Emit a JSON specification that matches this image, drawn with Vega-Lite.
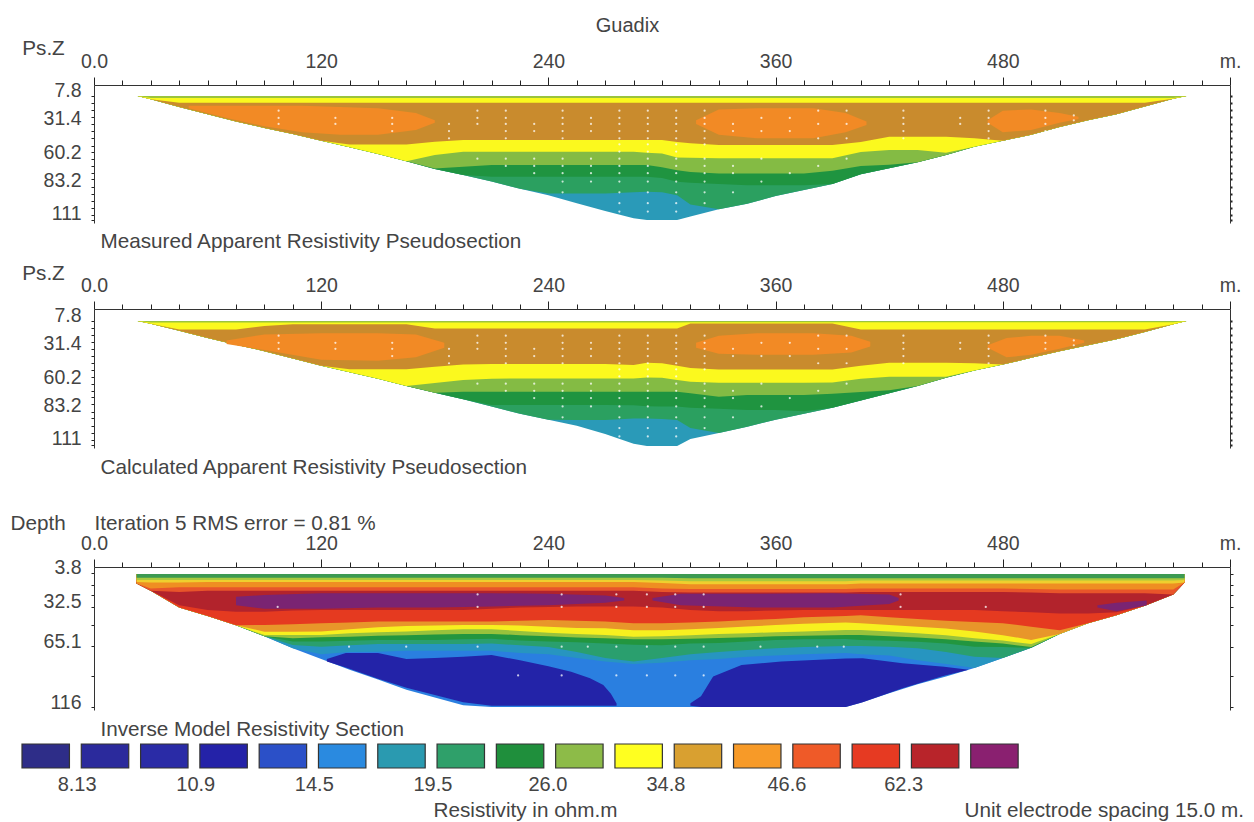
{
"$schema":"https://vega.github.io/schema/vega-lite/v6.json",
"width":1254,"height":822,"padding":0,"autosize":"none","background":"white",
"config":{"view":{"stroke":null},"font":"Liberation Sans","axis":{"grid":false,"labelFont":"Liberation Sans","titleFont":"Liberation Sans","labelFontSize":19.5,"titleFontSize":20.7,"labelColor":"#444","titleColor":"#444","titleFontWeight":"normal","domainColor":"#333","tickColor":"#222","labelOverlap":false,"labelBound":false,"labelFlush":false}},
"datasets":{
"p1":[
{"x":23,"topgreen":7.8,"yellow1":7.8,"brown":7.8,"yellow2":7.8,"lgreen":7.8,"dgreen":7.8,"green":7.8,"teal":7.8},
{"x":30,"topgreen":9.5,"yellow1":10.5,"brown":10.5,"yellow2":10.5,"lgreen":10.5,"dgreen":10.5,"green":10.5,"teal":10.5},
{"x":45,"topgreen":9.5,"yellow1":13.4,"brown":17,"yellow2":17,"lgreen":17,"dgreen":17,"green":17,"teal":17},
{"x":60,"topgreen":9.5,"yellow1":13.4,"brown":23,"yellow2":23,"lgreen":23,"dgreen":23,"green":23,"teal":23},
{"x":75,"topgreen":9.5,"yellow1":13.4,"brown":29,"yellow2":29,"lgreen":29,"dgreen":29,"green":29,"teal":29},
{"x":90,"topgreen":9.5,"yellow1":13.4,"brown":34.4,"yellow2":34.4,"lgreen":34.4,"dgreen":34.4,"green":34.4,"teal":34.4},
{"x":105,"topgreen":9.5,"yellow1":13.4,"brown":39.5,"yellow2":39.5,"lgreen":39.5,"dgreen":39.5,"green":39.5,"teal":39.5},
{"x":120,"topgreen":9.5,"yellow1":13.4,"brown":45,"yellow2":45,"lgreen":45,"dgreen":45,"green":45,"teal":45},
{"x":135,"topgreen":9.5,"yellow1":13.4,"brown":48.1,"yellow2":50.5,"lgreen":50.5,"dgreen":50.5,"green":50.5,"teal":50.5},
{"x":150,"topgreen":9.5,"yellow1":13.4,"brown":48.1,"yellow2":56,"lgreen":56,"dgreen":56,"green":56,"teal":56},
{"x":165,"topgreen":9.5,"yellow1":13.4,"brown":48.1,"yellow2":62,"lgreen":62,"dgreen":62,"green":62,"teal":62},
{"x":180,"topgreen":9.5,"yellow1":13.4,"brown":45.9,"yellow2":57,"lgreen":68.1,"dgreen":68.5,"green":68.5,"teal":68.5},
{"x":195,"topgreen":9.5,"yellow1":13.4,"brown":44.5,"yellow2":54.2,"lgreen":66.7,"dgreen":73.5,"green":73.5,"teal":73.5},
{"x":210,"topgreen":9.5,"yellow1":13.4,"brown":44.5,"yellow2":54.2,"lgreen":65.3,"dgreen":75,"green":79,"teal":79},
{"x":225,"topgreen":9.5,"yellow1":13.4,"brown":44.5,"yellow2":54.2,"lgreen":65.3,"dgreen":75,"green":85,"teal":85},
{"x":240,"topgreen":9.5,"yellow1":13.4,"brown":44.5,"yellow2":54.2,"lgreen":65.3,"dgreen":75,"green":89,"teal":90.5},
{"x":255,"topgreen":9.5,"yellow1":13.4,"brown":44.5,"yellow2":54.2,"lgreen":65.3,"dgreen":75,"green":89,"teal":97},
{"x":270,"topgreen":9.5,"yellow1":13.4,"brown":44.5,"yellow2":54.2,"lgreen":65.3,"dgreen":75,"green":89,"teal":103.5},
{"x":285,"topgreen":9.5,"yellow1":13.4,"brown":44.5,"yellow2":54.2,"lgreen":65.3,"dgreen":75,"green":88,"teal":109.5},
{"x":292,"topgreen":9.5,"yellow1":13.4,"brown":44.5,"yellow2":55,"lgreen":65.3,"dgreen":75,"green":87.5,"teal":111},
{"x":300,"topgreen":9.5,"yellow1":13.4,"brown":44.5,"yellow2":55.6,"lgreen":67,"dgreen":76,"green":88,"teal":111},
{"x":308,"topgreen":9.5,"yellow1":13.4,"brown":46,"yellow2":59,"lgreen":69.5,"dgreen":79.2,"green":90.3,"teal":111},
{"x":315,"topgreen":9.5,"yellow1":13.4,"brown":47.2,"yellow2":59.2,"lgreen":71,"dgreen":80,"green":98,"teal":108},
{"x":330,"topgreen":9.5,"yellow1":13.4,"brown":48.6,"yellow2":59.7,"lgreen":72.2,"dgreen":81,"green":102,"teal":102},
{"x":345,"topgreen":9.5,"yellow1":13.4,"brown":48.6,"yellow2":59.7,"lgreen":72.2,"dgreen":82,"green":97.5,"teal":97.5},
{"x":360,"topgreen":9.5,"yellow1":13.4,"brown":48.6,"yellow2":59.7,"lgreen":72.2,"dgreen":82,"green":91,"teal":91},
{"x":375,"topgreen":9.5,"yellow1":13.4,"brown":48.6,"yellow2":59.7,"lgreen":72.2,"dgreen":82,"green":86,"teal":86},
{"x":390,"topgreen":9.5,"yellow1":13.4,"brown":48.6,"yellow2":59.7,"lgreen":70,"dgreen":81,"green":81,"teal":81},
{"x":405,"topgreen":9.5,"yellow1":13.4,"brown":46,"yellow2":54.5,"lgreen":66,"dgreen":73,"green":73,"teal":73},
{"x":420,"topgreen":9.5,"yellow1":13.4,"brown":41.7,"yellow2":52.8,"lgreen":65,"dgreen":68,"green":68,"teal":68},
{"x":435,"topgreen":9.5,"yellow1":13.4,"brown":41.7,"yellow2":52.8,"lgreen":63,"dgreen":63,"green":63,"teal":63},
{"x":450,"topgreen":9.5,"yellow1":13.4,"brown":41.7,"yellow2":55,"lgreen":57,"dgreen":57,"green":57,"teal":57},
{"x":465,"topgreen":9.5,"yellow1":13.4,"brown":43,"yellow2":50,"lgreen":50,"dgreen":50,"green":50,"teal":50},
{"x":480,"topgreen":9.5,"yellow1":13.4,"brown":45,"yellow2":45,"lgreen":45,"dgreen":45,"green":45,"teal":45},
{"x":495,"topgreen":9.5,"yellow1":13.4,"brown":40,"yellow2":40,"lgreen":40,"dgreen":40,"green":40,"teal":40},
{"x":510,"topgreen":9.5,"yellow1":13.4,"brown":33.5,"yellow2":33.5,"lgreen":33.5,"dgreen":33.5,"green":33.5,"teal":33.5},
{"x":525,"topgreen":9.5,"yellow1":13.4,"brown":28,"yellow2":28,"lgreen":28,"dgreen":28,"green":28,"teal":28},
{"x":540,"topgreen":9.5,"yellow1":13.4,"brown":23,"yellow2":23,"lgreen":23,"dgreen":23,"green":23,"teal":23},
{"x":555,"topgreen":9.5,"yellow1":13.4,"brown":16.5,"yellow2":16.5,"lgreen":16.5,"dgreen":16.5,"green":16.5,"teal":16.5},
{"x":570,"topgreen":9.5,"yellow1":10,"brown":10,"yellow2":10,"lgreen":10,"dgreen":10,"green":10,"teal":10},
{"x":577,"topgreen":7.8,"yellow1":7.8,"brown":7.8,"yellow2":7.8,"lgreen":7.8,"dgreen":7.8,"green":7.8,"teal":7.8}
],
"p2":[
{"x":23,"topgreen":7.8,"yellow1":7.8,"brown":7.8,"yellow2":7.8,"lgreen":7.8,"dgreen":7.8,"green":7.8,"teal":7.8},
{"x":30,"topgreen":9,"yellow1":10,"brown":10,"yellow2":10,"lgreen":10,"dgreen":10,"green":10,"teal":10},
{"x":45,"topgreen":9,"yellow1":14.8,"brown":16,"yellow2":16,"lgreen":16,"dgreen":16,"green":16,"teal":16},
{"x":60,"topgreen":9,"yellow1":14.8,"brown":22,"yellow2":22,"lgreen":22,"dgreen":22,"green":22,"teal":22},
{"x":75,"topgreen":9,"yellow1":14.8,"brown":27.5,"yellow2":27.5,"lgreen":27.5,"dgreen":27.5,"green":27.5,"teal":27.5},
{"x":90,"topgreen":9,"yellow1":12,"brown":33,"yellow2":33,"lgreen":33,"dgreen":33,"green":33,"teal":33},
{"x":105,"topgreen":9,"yellow1":10.6,"brown":39,"yellow2":39,"lgreen":39,"dgreen":39,"green":39,"teal":39},
{"x":120,"topgreen":9,"yellow1":10.6,"brown":45,"yellow2":45,"lgreen":45,"dgreen":45,"green":45,"teal":45},
{"x":135,"topgreen":9,"yellow1":10.6,"brown":48,"yellow2":50.5,"lgreen":50.5,"dgreen":50.5,"green":50.5,"teal":50.5},
{"x":150,"topgreen":9,"yellow1":10.6,"brown":48,"yellow2":56,"lgreen":56,"dgreen":56,"green":56,"teal":56},
{"x":165,"topgreen":9,"yellow1":10.6,"brown":48,"yellow2":62,"lgreen":62,"dgreen":62,"green":62,"teal":62},
{"x":180,"topgreen":9,"yellow1":14,"brown":46,"yellow2":59.5,"lgreen":67.5,"dgreen":67.5,"green":67.5,"teal":67.5},
{"x":195,"topgreen":9,"yellow1":14,"brown":44,"yellow2":57,"lgreen":66.7,"dgreen":73,"green":73,"teal":73},
{"x":210,"topgreen":9,"yellow1":14,"brown":43.6,"yellow2":56,"lgreen":66.7,"dgreen":77.8,"green":79,"teal":79},
{"x":225,"topgreen":9,"yellow1":14,"brown":43.6,"yellow2":55.6,"lgreen":66.7,"dgreen":77.8,"green":85,"teal":85},
{"x":240,"topgreen":9,"yellow1":14,"brown":43.6,"yellow2":55.6,"lgreen":66.7,"dgreen":77.8,"green":90,"teal":90},
{"x":255,"topgreen":9,"yellow1":14,"brown":43.6,"yellow2":55.6,"lgreen":66.7,"dgreen":77.8,"green":90.3,"teal":95},
{"x":270,"topgreen":9,"yellow1":14,"brown":43.6,"yellow2":55.6,"lgreen":66.7,"dgreen":77.8,"green":90.3,"teal":102},
{"x":285,"topgreen":9,"yellow1":14,"brown":44.5,"yellow2":55.6,"lgreen":66.7,"dgreen":78,"green":89,"teal":110},
{"x":292,"topgreen":9,"yellow1":14,"brown":42.5,"yellow2":54.8,"lgreen":66.7,"dgreen":78.9,"green":89,"teal":112},
{"x":300,"topgreen":9,"yellow1":14,"brown":43,"yellow2":55,"lgreen":66.7,"dgreen":79,"green":89.5,"teal":112},
{"x":308,"topgreen":9,"yellow1":14,"brown":45,"yellow2":57,"lgreen":66.7,"dgreen":79,"green":90.3,"teal":112},
{"x":315,"topgreen":8.8,"yellow1":9.8,"brown":47,"yellow2":58.4,"lgreen":68,"dgreen":80,"green":97,"teal":106},
{"x":330,"topgreen":8.8,"yellow1":9.8,"brown":48.1,"yellow2":59.2,"lgreen":70.9,"dgreen":81,"green":101,"teal":101},
{"x":345,"topgreen":8.8,"yellow1":9.8,"brown":48.1,"yellow2":59.2,"lgreen":69.5,"dgreen":82,"green":96,"teal":96},
{"x":360,"topgreen":8.8,"yellow1":9.8,"brown":48.1,"yellow2":59.2,"lgreen":69.5,"dgreen":82,"green":90,"teal":90},
{"x":375,"topgreen":8.8,"yellow1":9.8,"brown":48.1,"yellow2":59.2,"lgreen":69.5,"dgreen":83,"green":85,"teal":85},
{"x":390,"topgreen":8.8,"yellow1":9.8,"brown":48.1,"yellow2":59,"lgreen":68.5,"dgreen":80,"green":80,"teal":80},
{"x":405,"topgreen":8.8,"yellow1":14.8,"brown":45,"yellow2":56,"lgreen":67,"dgreen":74,"green":74,"teal":74},
{"x":420,"topgreen":8.8,"yellow1":14.8,"brown":42.5,"yellow2":54.2,"lgreen":65.5,"dgreen":68,"green":68,"teal":68},
{"x":435,"topgreen":8.8,"yellow1":14.8,"brown":42.5,"yellow2":54.2,"lgreen":62,"dgreen":62,"green":62,"teal":62},
{"x":450,"topgreen":8.8,"yellow1":14.8,"brown":42.5,"yellow2":54.2,"lgreen":55,"dgreen":55,"green":55,"teal":55},
{"x":465,"topgreen":8.8,"yellow1":14.8,"brown":43,"yellow2":49,"lgreen":49,"dgreen":49,"green":49,"teal":49},
{"x":480,"topgreen":8.8,"yellow1":14.8,"brown":44,"yellow2":44,"lgreen":44,"dgreen":44,"green":44,"teal":44},
{"x":495,"topgreen":8.8,"yellow1":14.8,"brown":38.5,"yellow2":38.5,"lgreen":38.5,"dgreen":38.5,"green":38.5,"teal":38.5},
{"x":510,"topgreen":8.8,"yellow1":14.8,"brown":33,"yellow2":33,"lgreen":33,"dgreen":33,"green":33,"teal":33},
{"x":525,"topgreen":8.8,"yellow1":14.8,"brown":28,"yellow2":28,"lgreen":28,"dgreen":28,"green":28,"teal":28},
{"x":540,"topgreen":8.8,"yellow1":14.8,"brown":23,"yellow2":23,"lgreen":23,"dgreen":23,"green":23,"teal":23},
{"x":555,"topgreen":8.8,"yellow1":14.8,"brown":17,"yellow2":17,"lgreen":17,"dgreen":17,"green":17,"teal":17},
{"x":570,"topgreen":8.8,"yellow1":10.5,"brown":10.5,"yellow2":10.5,"lgreen":10.5,"dgreen":10.5,"green":10.5,"teal":10.5},
{"x":577,"topgreen":7.8,"yellow1":7.8,"brown":7.8,"yellow2":7.8,"lgreen":7.8,"dgreen":7.8,"green":7.8,"teal":7.8}
],
"p3":[
{"x":22.5,"a":8,"b":10,"c":11.6,"d":12.8,"e":12.8,"f":12.8,"g":12.8,"h":12.8,"i":12.8,"j":12.8,"k":12.8,"l":12.8,"m":12.8,"n":12.8},
{"x":30,"a":8,"b":10,"c":12,"d":17,"e":19,"f":19,"g":19,"h":19,"i":19,"j":19,"k":19,"l":19,"m":19,"n":19},
{"x":45,"a":8,"b":10,"c":12,"d":16,"e":20,"f":31,"g":33,"h":33,"i":33,"j":33,"k":33,"l":33,"m":33,"n":33},
{"x":60,"a":8,"b":10,"c":11.6,"d":16,"e":19,"f":35,"g":40,"h":40,"i":40,"j":40,"k":40,"l":40,"m":40,"n":40},
{"x":75,"a":8,"b":10,"c":11.6,"d":16,"e":19,"f":36.4,"g":47.8,"h":47.8,"i":47.8,"j":47.8,"k":47.8,"l":47.8,"m":47.8,"n":47.8},
{"x":90,"a":8,"b":10,"c":11.6,"d":16,"e":19,"f":36.4,"g":47.5,"h":53.1,"i":55.9,"j":57,"k":57,"l":57,"m":57,"n":57},
{"x":105,"a":8,"b":10,"c":11.6,"d":16,"e":19,"f":35.5,"g":47,"h":53.1,"i":55.9,"j":58.7,"k":61.4,"l":64.2,"m":67,"n":67},
{"x":120,"a":8,"b":10,"c":11.6,"d":16,"e":19,"f":35,"g":46.1,"h":53,"i":55.9,"j":57.8,"k":61.4,"l":65.6,"m":72,"n":76},
{"x":135,"a":8,"b":10,"c":11.6,"d":16,"e":19,"f":35,"g":45.5,"h":51,"i":54.5,"j":57.3,"k":60.7,"l":64.5,"m":70,"n":85},
{"x":150,"a":8,"b":10,"c":11.6,"d":16,"e":19,"f":35,"g":44.7,"h":49.5,"i":53.5,"j":56.5,"k":60,"l":63.5,"m":69.8,"n":93},
{"x":165,"a":8,"b":10,"c":11.6,"d":16,"e":19,"f":35,"g":44.7,"h":48.4,"i":53,"j":56,"k":60,"l":63.4,"m":69,"n":101.5},
{"x":180,"a":8,"b":10,"c":11.6,"d":16,"e":19,"f":35,"g":44.7,"h":48,"i":52,"j":55.5,"k":60,"l":63.4,"m":69,"n":108},
{"x":195,"a":8,"b":10,"c":11.6,"d":16,"e":19,"f":35,"g":44.7,"h":47.5,"i":51,"j":55,"k":59.5,"l":63.4,"m":69,"n":114.5},
{"x":210,"a":8,"b":10,"c":11.6,"d":16,"e":19,"f":34,"g":44.7,"h":47.5,"i":51,"j":55,"k":59,"l":63,"m":69,"n":116},
{"x":225,"a":8,"b":10,"c":11.6,"d":16,"e":19,"f":33,"g":44,"h":48,"i":52.5,"j":56,"k":60.5,"l":64.5,"m":71,"n":116},
{"x":240,"a":8,"b":10,"c":11.6,"d":16,"e":19,"f":32.5,"g":43.4,"h":49,"i":54,"j":57,"k":61.4,"l":66,"m":72,"n":116},
{"x":255,"a":8,"b":10,"c":11.6,"d":16,"e":19,"f":32.2,"g":44,"h":50,"i":55,"j":58,"k":62,"l":70,"m":75,"n":116},
{"x":270,"a":8,"b":10,"c":11.6,"d":16,"e":19,"f":32.2,"g":44.7,"h":50.3,"i":55.9,"j":58.7,"k":63,"l":75,"m":78,"n":116},
{"x":285,"a":8,"b":10,"c":11.6,"d":16,"e":19,"f":32,"g":46,"h":52,"i":57.3,"j":59.5,"k":64,"l":78,"m":80,"n":116},
{"x":300,"a":8.2,"b":10.5,"c":12.5,"d":17,"e":20,"f":33,"g":46,"h":52,"i":57,"j":59.5,"k":64.5,"l":75,"m":79,"n":116},
{"x":315,"a":8.5,"b":11,"c":13.5,"d":17.5,"e":20.5,"f":35,"g":45.5,"h":51,"i":56,"j":59,"k":63,"l":72,"m":77,"n":116},
{"x":330,"a":8.5,"b":11,"c":13.5,"d":17.5,"e":20.5,"f":36,"g":44.7,"h":50,"i":55,"j":58.5,"k":62.5,"l":70,"m":76,"n":116},
{"x":345,"a":8.5,"b":11,"c":13.5,"d":17.5,"e":20.5,"f":36,"g":43.4,"h":48.9,"i":54.5,"j":57.8,"k":61.4,"l":68.4,"m":74,"n":116},
{"x":360,"a":8.5,"b":11,"c":13.5,"d":17.5,"e":20.5,"f":35.5,"g":42.5,"h":47.5,"i":53.5,"j":57,"k":60,"l":67,"m":73,"n":116},
{"x":375,"a":8.5,"b":11,"c":13.5,"d":17.5,"e":20.5,"f":35,"g":41,"h":46.5,"i":53,"j":56.5,"k":59.5,"l":66,"m":72,"n":116},
{"x":397,"a":8.5,"b":11,"c":13.5,"d":17.5,"e":20.5,"f":35,"g":40,"h":45.5,"i":51.7,"j":55.9,"k":59.3,"l":65,"m":71,"n":116},
{"x":405,"a":8.5,"b":10.5,"c":13,"d":17,"e":20,"f":35,"g":39.5,"h":46,"i":51.7,"j":55.9,"k":60,"l":65,"m":72,"n":112.5},
{"x":420,"a":8.5,"b":10.5,"c":13,"d":17,"e":20,"f":35,"g":41,"h":47.5,"i":53,"j":57,"k":60.7,"l":65.6,"m":73,"n":104.5},
{"x":435,"a":8.5,"b":10.5,"c":13,"d":17,"e":20,"f":35,"g":42.5,"h":49,"i":54.5,"j":58,"k":61.5,"l":67,"m":77,"n":97},
{"x":450,"a":8.5,"b":10.5,"c":13,"d":17,"e":20,"f":35,"g":44,"h":50.5,"i":56,"j":59.5,"k":63,"l":70,"m":80,"n":90.5},
{"x":465,"a":8.5,"b":10.5,"c":13,"d":17,"e":20,"f":35,"g":45,"h":53,"i":58.7,"j":61.4,"k":65.6,"l":74,"m":83.5,"n":83.5},
{"x":480,"a":8.5,"b":10.5,"c":13,"d":17,"e":20,"f":36,"g":46,"h":56,"i":60.5,"j":63,"k":66,"l":75,"m":75,"n":75},
{"x":495,"a":8.5,"b":10.5,"c":13,"d":17.5,"e":20.5,"f":37,"g":49,"h":60,"i":63.5,"j":66,"k":66.5,"l":66.5,"m":66.5,"n":66.5},
{"x":510,"a":8.5,"b":10.5,"c":13,"d":18,"e":21,"f":38,"g":52,"h":55,"i":55,"j":55,"k":55,"l":55,"m":55,"n":55},
{"x":525,"a":8.5,"b":10.5,"c":13,"d":18,"e":21,"f":38,"g":46,"h":46,"i":46,"j":46,"k":46,"l":46,"m":46,"n":46},
{"x":540,"a":8.5,"b":10.5,"c":13,"d":18,"e":21,"f":37,"g":39.5,"h":39.5,"i":39.5,"j":39.5,"k":39.5,"l":39.5,"m":39.5,"n":39.5},
{"x":555,"a":8.5,"b":10.5,"c":13,"d":18,"e":21,"f":31.5,"g":31.5,"h":31.5,"i":31.5,"j":31.5,"k":31.5,"l":31.5,"m":31.5,"n":31.5},
{"x":570,"a":8.5,"b":10.5,"c":13,"d":18,"e":22,"f":22,"g":22,"h":22,"i":22,"j":22,"k":22,"l":22,"m":22,"n":22},
{"x":576,"a":8.5,"b":10,"c":12,"d":12,"e":12,"f":12,"g":12,"h":12,"i":12,"j":12,"k":12,"l":12,"m":12,"n":12}
],
"p1lens":[
{"lens":"L","band":"orange","x":50,"z0":16,"z1":18},{"lens":"L","band":"orange","x":70,"z0":16,"z1":26},{"lens":"L","band":"orange","x":90,"z0":16,"z1":33},{"lens":"L","band":"orange","x":110,"z0":16,"z1":38},{"lens":"L","band":"orange","x":130,"z0":17,"z1":40},{"lens":"L","band":"orange","x":150,"z0":18,"z1":40},{"lens":"L","band":"orange","x":170,"z0":22,"z1":36},{"lens":"L","band":"orange","x":180,"z0":28,"z1":30},
{"lens":"R1","band":"orange","x":318,"z0":28,"z1":31},{"lens":"R1","band":"orange","x":330,"z0":19,"z1":40},{"lens":"R1","band":"orange","x":350,"z0":18,"z1":43},{"lens":"R1","band":"orange","x":380,"z0":18,"z1":43},{"lens":"R1","band":"orange","x":397,"z0":22,"z1":38},{"lens":"R1","band":"orange","x":408,"z0":29,"z1":32},
{"lens":"R2","band":"orange","x":472,"z0":28,"z1":30},{"lens":"R2","band":"orange","x":480,"z0":20,"z1":38},{"lens":"R2","band":"orange","x":495,"z0":19,"z1":36},{"lens":"R2","band":"orange","x":510,"z0":22,"z1":30},{"lens":"R2","band":"orange","x":520,"z0":25,"z1":27}
],
"p2lens":[
{"lens":"L","band":"orange","x":70,"z0":24,"z1":27},{"lens":"L","band":"orange","x":90,"z0":19,"z1":32},{"lens":"L","band":"orange","x":120,"z0":18,"z1":40},{"lens":"L","band":"orange","x":150,"z0":18,"z1":41},{"lens":"L","band":"orange","x":170,"z0":19,"z1":38},{"lens":"L","band":"orange","x":185,"z0":26,"z1":30},
{"lens":"R1","band":"orange","x":318,"z0":26,"z1":30},{"lens":"R1","band":"orange","x":330,"z0":20,"z1":35},{"lens":"R1","band":"orange","x":350,"z0":18,"z1":36},{"lens":"R1","band":"orange","x":380,"z0":18,"z1":36},{"lens":"R1","band":"orange","x":400,"z0":20,"z1":34},{"lens":"R1","band":"orange","x":410,"z0":25,"z1":29},
{"lens":"R2","band":"orange","x":472,"z0":28,"z1":30},{"lens":"R2","band":"orange","x":482,"z0":22,"z1":38},{"lens":"R2","band":"orange","x":495,"z0":20,"z1":36},{"lens":"R2","band":"orange","x":510,"z0":20,"z1":31},{"lens":"R2","band":"orange","x":523,"z0":24,"z1":26}
],
"p3lens":[
{"lens":"P1","band":"purple","x":75,"z0":24,"z1":31},{"lens":"P1","band":"purple","x":90,"z0":22.5,"z1":34},{"lens":"P1","band":"purple","x":120,"z0":21,"z1":34},{"lens":"P1","band":"purple","x":150,"z0":21,"z1":33},{"lens":"P1","band":"purple","x":180,"z0":21,"z1":33},{"lens":"P1","band":"purple","x":210,"z0":21,"z1":32},{"lens":"P1","band":"purple","x":240,"z0":21.5,"z1":31},{"lens":"P1","band":"purple","x":270,"z0":23,"z1":29},{"lens":"P1","band":"purple","x":280,"z0":25,"z1":27},
{"lens":"P2","band":"purple","x":295,"z0":25,"z1":27},{"lens":"P2","band":"purple","x":310,"z0":21.5,"z1":31},{"lens":"P2","band":"purple","x":350,"z0":21.5,"z1":33},{"lens":"P2","band":"purple","x":390,"z0":21,"z1":33},{"lens":"P2","band":"purple","x":420,"z0":22,"z1":30},{"lens":"P2","band":"purple","x":425,"z0":25,"z1":27},
{"lens":"P3","band":"purple","x":530,"z0":31,"z1":33},{"lens":"P3","band":"purple","x":540,"z0":29,"z1":36},{"lens":"P3","band":"purple","x":556,"z0":27,"z1":31},
{"lens":"D1","band":"deep","x":123,"z0":76,"z1":78},{"lens":"D1","band":"deep","x":133,"z0":71,"z1":83},{"lens":"D1","band":"deep","x":150,"z0":71,"z1":92.5},{"lens":"D1","band":"deep","x":165,"z0":76,"z1":100},{"lens":"D1","band":"deep","x":180,"z0":75,"z1":106},{"lens":"D1","band":"deep","x":195,"z0":74,"z1":112},{"lens":"D1","band":"deep","x":210,"z0":72.6,"z1":115},{"lens":"D1","band":"deep","x":225,"z0":77,"z1":115},{"lens":"D1","band":"deep","x":240,"z0":82,"z1":115},{"lens":"D1","band":"deep","x":252,"z0":86.5,"z1":115},{"lens":"D1","band":"deep","x":262,"z0":92,"z1":115},{"lens":"D1","band":"deep","x":269,"z0":97.6,"z1":115},{"lens":"D1","band":"deep","x":273,"z0":105,"z1":115},{"lens":"D1","band":"deep","x":276,"z0":113,"z1":115},
{"lens":"D2","band":"deep","x":315,"z0":112.9,"z1":115},{"lens":"D2","band":"deep","x":320.6,"z0":107,"z1":116},{"lens":"D2","band":"deep","x":327,"z0":90.6,"z1":116},{"lens":"D2","band":"deep","x":342,"z0":80.9,"z1":116},{"lens":"D2","band":"deep","x":363,"z0":78,"z1":116},{"lens":"D2","band":"deep","x":397,"z0":75.5,"z1":116},{"lens":"D2","band":"deep","x":406,"z0":75.3,"z1":112},{"lens":"D2","band":"deep","x":427,"z0":79.5,"z1":100.4},{"lens":"D2","band":"deep","x":449,"z0":82.3,"z1":90},{"lens":"D2","band":"deep","x":462,"z0":85,"z1":85}
],
"dots":[
{"x":277.5,"z":20},{"x":277.5,"z":26},{"x":277.5,"z":31},{"x":277.5,"z":37},{"x":277.5,"z":43},{"x":277.5,"z":48},{"x":277.5,"z":54},{"x":277.5,"z":60},{"x":277.5,"z":66},{"x":277.5,"z":72},{"x":277.5,"z":79},{"x":277.5,"z":88},{"x":277.5,"z":97},{"x":277.5,"z":104},
{"x":292.5,"z":20},{"x":292.5,"z":26},{"x":292.5,"z":31},{"x":292.5,"z":37},{"x":292.5,"z":43},{"x":292.5,"z":48},{"x":292.5,"z":54},{"x":292.5,"z":60},{"x":292.5,"z":66},{"x":292.5,"z":72},{"x":292.5,"z":79},{"x":292.5,"z":88},{"x":292.5,"z":97},{"x":292.5,"z":104},
{"x":307.5,"z":20},{"x":307.5,"z":26},{"x":307.5,"z":31},{"x":307.5,"z":37},{"x":307.5,"z":43},{"x":307.5,"z":48},{"x":307.5,"z":54},{"x":307.5,"z":60},{"x":307.5,"z":66},{"x":307.5,"z":72},{"x":307.5,"z":79},{"x":307.5,"z":88},{"x":307.5,"z":97},{"x":307.5,"z":104},
{"x":322.5,"z":20},{"x":322.5,"z":26},{"x":322.5,"z":31},{"x":322.5,"z":37},{"x":322.5,"z":43},{"x":322.5,"z":48},{"x":322.5,"z":60},{"x":322.5,"z":66},{"x":322.5,"z":72},{"x":322.5,"z":79},{"x":322.5,"z":88},{"x":322.5,"z":97},
{"x":247.5,"z":20},{"x":247.5,"z":26},{"x":247.5,"z":31},{"x":247.5,"z":37},{"x":247.5,"z":43},{"x":247.5,"z":60},{"x":247.5,"z":66},{"x":247.5,"z":72},{"x":247.5,"z":79},{"x":247.5,"z":88},
{"x":262.5,"z":26},{"x":262.5,"z":31},{"x":262.5,"z":37},{"x":262.5,"z":60},{"x":262.5,"z":66},{"x":262.5,"z":72},{"x":262.5,"z":79},
{"x":232.5,"z":31},{"x":232.5,"z":37},{"x":232.5,"z":60},{"x":232.5,"z":66},{"x":232.5,"z":72},
{"x":217.5,"z":20},{"x":217.5,"z":26},{"x":217.5,"z":31},{"x":217.5,"z":37},{"x":217.5,"z":43},{"x":217.5,"z":60},{"x":217.5,"z":66},
{"x":202.5,"z":20},{"x":202.5,"z":26},{"x":202.5,"z":31},{"x":202.5,"z":60},
{"x":187.5,"z":31},{"x":187.5,"z":37},{"x":187.5,"z":43},
{"x":97.5,"z":20},{"x":97.5,"z":26},{"x":97.5,"z":31},{"x":127.5,"z":26},{"x":127.5,"z":31},{"x":157.5,"z":26},{"x":157.5,"z":31},{"x":157.5,"z":37},
{"x":337.5,"z":31},{"x":337.5,"z":37},{"x":337.5,"z":66},{"x":337.5,"z":72},{"x":337.5,"z":88},
{"x":352.5,"z":26},{"x":352.5,"z":37},{"x":352.5,"z":60},{"x":352.5,"z":79},
{"x":367.5,"z":26},{"x":367.5,"z":37},{"x":367.5,"z":72},
{"x":382.5,"z":20},{"x":382.5,"z":31},{"x":382.5,"z":43},{"x":382.5,"z":66},
{"x":397.5,"z":20},{"x":397.5,"z":31},{"x":397.5,"z":43},{"x":397.5,"z":60},
{"x":427.5,"z":20},{"x":427.5,"z":26},{"x":427.5,"z":31},{"x":427.5,"z":37},{"x":427.5,"z":43},
{"x":457.5,"z":26},{"x":457.5,"z":31},
{"x":472.5,"z":20},{"x":472.5,"z":26},{"x":472.5,"z":31},{"x":472.5,"z":37},{"x":472.5,"z":43},
{"x":502.5,"z":20},{"x":502.5,"z":26},{"x":502.5,"z":31},{"x":502.5,"z":37},
{"x":517.5,"z":24},{"x":517.5,"z":28}
],
"dots3":[
{"x":97,"z":32.5},{"x":134.7,"z":65.6},{"x":164.9,"z":65.6},{"x":202.6,"z":65.6},{"x":202.6,"z":22},{"x":202.6,"z":32.5},{"x":224,"z":89.6},{"x":247,"z":22},{"x":247,"z":32.5},{"x":247,"z":65.6},{"x":247,"z":89.6},{"x":260.8,"z":65.6},{"x":275.9,"z":22},{"x":275.9,"z":32.5},{"x":275.9,"z":65.6},{"x":275.9,"z":89.6},
{"x":292,"z":22},{"x":292,"z":32.5},{"x":292,"z":65.6},{"x":292,"z":89.6},{"x":307,"z":22},{"x":307,"z":32.5},{"x":307,"z":65.6},{"x":307,"z":89.6},{"x":322,"z":22},{"x":322,"z":32.5},{"x":322,"z":65.6},{"x":322,"z":89.6},{"x":352,"z":65.6},{"x":382,"z":65.6},{"x":396,"z":65.6},{"x":426,"z":22},{"x":426,"z":32.5},{"x":471,"z":32.5}
],
"swatches":[
{"i":0,"i2":0.8,"swatch":"s01"},{"i":1,"i2":1.8,"swatch":"s02"},{"i":2,"i2":2.8,"swatch":"s03"},{"i":3,"i2":3.8,"swatch":"s04"},{"i":4,"i2":4.8,"swatch":"s05"},{"i":5,"i2":5.8,"swatch":"s06"},{"i":6,"i2":6.8,"swatch":"s07"},{"i":7,"i2":7.8,"swatch":"s08"},{"i":8,"i2":8.8,"swatch":"s09"},{"i":9,"i2":9.8,"swatch":"s10"},{"i":10,"i2":10.8,"swatch":"s11"},{"i":11,"i2":11.8,"swatch":"s12"},{"i":12,"i2":12.8,"swatch":"s13"},{"i":13,"i2":13.8,"swatch":"s14"},{"i":14,"i2":14.8,"swatch":"s15"},{"i":15,"i2":15.8,"swatch":"s16"},{"i":16,"i2":16.8,"swatch":"s17"}
],
"swatchlabels":[
{"pos":0.93,"label":"8.13"},{"pos":2.93,"label":"10.9"},{"pos":4.93,"label":"14.5"},{"pos":6.93,"label":"19.5"},{"pos":8.87,"label":"26.0"},{"pos":10.86,"label":"34.8"},{"pos":12.9,"label":"46.6"},{"pos":14.87,"label":"62.3"}
]
},
"layer":[
{"data":{"name":"p1"},"transform":[{"fold":["teal","green","dgreen","lgreen","yellow2","brown","yellow1","topgreen"],"as":["band","z"]}],
 "mark":{"type":"area","orient":"vertical"},
 "encoding":{
  "x":{"field":"x","type":"quantitative","scale":{"domain":[0,600],"range":[94,1230],"nice":false,"zero":false},
   "axis":{"orient":"top","offset":-85,"values":[0,15,30,45,60,75,90,105,120,135,150,165,180,195,210,225,240,255,270,285,300,315,330,345,360,375,390,405,420,435,450,465,480,495,510,525,540,555,570,585,600],"labelExpr":"datum.value==0?'0.0':datum.value==600?'m.':datum.value%120==0?''+datum.value:''","tickSize":{"condition":{"test":"datum.value%120==0","value":8},"value":5},"labelPadding":6,"title":"Guadix","titleX":627,"titleY":-60,"titleFontSize":20,"titleAlign":"center","titleBaseline":"middle"}},
  "y":{"field":"z","type":"quantitative","stack":null,"scale":{"domain":[-1.37,113.5],"range":[85,223],"nice":false,"zero":false},
   "axis":{"orient":"left","offset":-94,"values":[7.8,13.5,19.5,25.5,31.4,37,43,49,54.5,60.2,66,71.5,77,83.2,89,95,101,107,111],"labelExpr":"indexof([7.8,31.4,60.2,83.2,111],datum.value)>=0?''+datum.value:''","tickSize":3,"labelOffset":-6,"labelPadding":10,"title":"Ps.Z","titleAngle":0,"titleX":-51,"titleY":48,"titleAlign":"center","titleBaseline":"middle"}},
  "y2":{"datum":7.8},
  "color":{"field":"band","type":"nominal","legend":null,"scale":{
   "domain":["teal","green","dgreen","lgreen","yellow2","brown","yellow1","topgreen","orange","a","b","c","d","e","f","g","h","i","j","k","l","m","n","purple","deep","s01","s02","s03","s04","s05","s06","s07","s08","s09","s10","s11","s12","s13","s14","s15","s16","s17"],
   "range":["#2a9ab8","#2ba060","#1f9440","#84bb44","#fbf91e","#c98b2d","#fbf91e","#9bc43c","#f28a25","#3c9a52","#a9c93e","#efcf2e","#ef8e22","#e8552a","#b2232c","#e53a20","#e8962a","#f7f01f","#98c23c","#22963f","#2a9f6e","#2795c0","#2a7fe0","#7a2472","#2323a8","#2e2d88","#2b2a9c","#2a2ba6","#2422a8","#2b50c8","#2a8ae0","#2a9ab0","#2fa06a","#1f8f3c","#8dbb48","#ffff20","#d9a030","#f79a28","#ef5a28","#e63a22","#b8242a","#8a2070"]}}
 }},
{"data":{"name":"p1lens"},"mark":{"type":"area","orient":"vertical"},
 "encoding":{
  "x":{"field":"x","type":"quantitative","scale":{"domain":[0,600],"range":[94,1230],"nice":false,"zero":false},"axis":{"orient":"bottom","domain":false,"ticks":false,"labels":false,"values":[],"title":"Measured Apparent Resistivity Pseudosection","titleX":100,"titleY":-581,"titleAlign":"left","titleBaseline":"middle"}},
  "y":{"field":"z0","type":"quantitative","stack":null,"scale":{"domain":[-1.37,113.5],"range":[85,223],"nice":false,"zero":false},"axis":{"orient":"right","offset":-24,"values":[7.8,13.5,19.5,25.5,31.4,37,43,49,54.5,60.2,66,71.5,77,83.2,89,95,101,107,111],"labels":false,"tickSize":2,"tickWidth":2,"title":null}},
  "y2":{"field":"z1"},
  "detail":{"field":"lens"},
  "color":{"field":"band","type":"nominal","legend":null}
 }},
{"data":{"name":"dots"},"mark":{"type":"circle","size":5,"color":"#ffffff","opacity":0.75},
 "encoding":{
  "x":{"field":"x","type":"quantitative","scale":{"domain":[0,600],"range":[94,1230],"nice":false,"zero":false},"axis":null},
  "y":{"field":"z","type":"quantitative","scale":{"domain":[-1.37,113.5],"range":[85,223],"nice":false,"zero":false},"axis":null}
 }},
{"data":{"name":"p2"},"transform":[{"fold":["teal","green","dgreen","lgreen","yellow2","brown","yellow1","topgreen"],"as":["band","z"]}],
 "mark":{"type":"area","orient":"vertical"},
 "encoding":{
  "x":{"field":"x","type":"quantitative","scale":{"domain":[0,600],"range":[94,1230],"nice":false,"zero":false},
   "axis":{"orient":"top","offset":-309,"values":[0,15,30,45,60,75,90,105,120,135,150,165,180,195,210,225,240,255,270,285,300,315,330,345,360,375,390,405,420,435,450,465,480,495,510,525,540,555,570,585,600],"labelExpr":"datum.value==0?'0.0':datum.value==600?'m.':datum.value%120==0?''+datum.value:''","tickSize":{"condition":{"test":"datum.value%120==0","value":8},"value":5},"labelPadding":6,"title":null}},
  "y":{"field":"z","type":"quantitative","stack":null,"scale":{"domain":[-2.2,113.6],"range":[309,448],"nice":false,"zero":false},
   "axis":{"orient":"left","offset":-94,"values":[7.8,13.5,19.5,25.5,31.4,37,43,49,54.5,60.2,66,71.5,77,83.2,89,95,101,107,111],"labelExpr":"indexof([7.8,31.4,60.2,83.2,111],datum.value)>=0?''+datum.value:''","tickSize":3,"labelOffset":-6,"labelPadding":10,"title":"Ps.Z","titleAngle":0,"titleX":-51,"titleY":273,"titleAlign":"center","titleBaseline":"middle"}},
  "y2":{"datum":7.8},
  "color":{"field":"band","type":"nominal","legend":null}
 }},
{"data":{"name":"p2lens"},"mark":{"type":"area","orient":"vertical"},
 "encoding":{
  "x":{"field":"x","type":"quantitative","scale":{"domain":[0,600],"range":[94,1230],"nice":false,"zero":false},"axis":{"orient":"bottom","domain":false,"ticks":false,"labels":false,"values":[],"title":"Calculated Apparent Resistivity Pseudosection","titleX":100,"titleY":-355,"titleAlign":"left","titleBaseline":"middle"}},
  "y":{"field":"z0","type":"quantitative","stack":null,"scale":{"domain":[-2.2,113.6],"range":[309,448],"nice":false,"zero":false},"axis":{"orient":"right","offset":-24,"values":[7.8,13.5,19.5,25.5,31.4,37,43,49,54.5,60.2,66,71.5,77,83.2,89,95,101,107,111],"labels":false,"tickSize":2,"tickWidth":2,"title":null}},
  "y2":{"field":"z1"},
  "detail":{"field":"lens"},
  "color":{"field":"band","type":"nominal","legend":null}
 }},
{"data":{"name":"dots"},"mark":{"type":"circle","size":5,"color":"#ffffff","opacity":0.75},
 "encoding":{
  "x":{"field":"x","type":"quantitative","scale":{"domain":[0,600],"range":[94,1230],"nice":false,"zero":false},"axis":null},
  "y":{"field":"z","type":"quantitative","scale":{"domain":[-2.2,113.6],"range":[309,448],"nice":false,"zero":false},"axis":null}
 }},
{"data":{"name":"p3"},"transform":[{"fold":["n","m","l","k","j","i","h","g","f","e","d","c","b","a"],"as":["band","z"]}],
 "mark":{"type":"area","orient":"vertical"},
 "encoding":{
  "x":{"field":"x","type":"quantitative","scale":{"domain":[0,600],"range":[94,1230],"nice":false,"zero":false},
   "axis":{"orient":"top","offset":-567,"values":[0,15,30,45,60,75,90,105,120,135,150,165,180,195,210,225,240,255,270,285,300,315,330,345,360,375,390,405,420,435,450,465,480,495,510,525,540,555,570,585,600],"labelExpr":"datum.value==0?'0.0':datum.value==600?'m.':datum.value%120==0?''+datum.value:''","tickSize":{"condition":{"test":"datum.value%120==0","value":8},"value":5},"labelPadding":6,"title":"Iteration 5 RMS error = 0.81 %","titleX":94,"titleY":-44,"titleAlign":"left","titleBaseline":"middle"}},
  "y":{"field":"z","type":"quantitative","stack":null,"scale":{"domain":[-0.87,118.5],"range":[567,710],"nice":false,"zero":false},
   "axis":{"orient":"left","offset":-94,"values":[3.8,14,22.5,32.5,47.5,65.1,89.8,116],"labelExpr":"indexof([3.8,32.5,65.1,116],datum.value)>=0?''+datum.value:''","tickSize":3,"labelOffset":-5,"labelPadding":10,"title":"Depth","titleAngle":0,"titleX":-84,"titleY":523,"titleAlign":"left","titleBaseline":"middle"}},
  "y2":{"datum":5},
  "color":{"field":"band","type":"nominal","legend":null}
 }},
{"data":{"name":"p3lens"},"mark":{"type":"area","orient":"vertical"},
 "encoding":{
  "x":{"field":"x","type":"quantitative","scale":{"domain":[0,600],"range":[94,1230],"nice":false,"zero":false},"axis":{"orient":"bottom","domain":false,"ticks":false,"labels":false,"values":[],"title":"Inverse Model Resistivity Section","titleX":100,"titleY":-93,"titleAlign":"left","titleBaseline":"middle"}},
  "y":{"field":"z0","type":"quantitative","stack":null,"scale":{"domain":[-0.87,118.5],"range":[567,710],"nice":false,"zero":false},"axis":{"orient":"right","offset":-24,"values":[5,14,22.5,32.8,47.5,65.6,89.8,116],"labels":false,"tickSize":3,"title":null}},
  "y2":{"field":"z1"},
  "detail":{"field":"lens"},
  "color":{"field":"band","type":"nominal","legend":null}
 }},
{"data":{"name":"dots3"},"mark":{"type":"circle","size":5,"color":"#ffffff","opacity":0.75},
 "encoding":{
  "x":{"field":"x","type":"quantitative","scale":{"domain":[0,600],"range":[94,1230],"nice":false,"zero":false},"axis":null},
  "y":{"field":"z","type":"quantitative","scale":{"domain":[-0.87,118.5],"range":[567,710],"nice":false,"zero":false},"axis":null}
 }},
{"data":{"name":"swatches"},"mark":{"type":"rect","stroke":"#333","strokeWidth":1.2},
 "encoding":{
  "x":{"field":"i","type":"quantitative","scale":{"domain":[0,17],"range":[22,1030],"nice":false,"zero":false},"axis":{"orient":"bottom","domain":false,"ticks":false,"labels":false,"values":[],"title":"Resistivity in ohm.m","titleX":433,"titleY":-12,"titleAlign":"left","titleBaseline":"middle"}},
  "x2":{"field":"i2"},
  "y":{"datum":0,"type":"quantitative","scale":{"domain":[0,1],"range":[744,768],"nice":false,"zero":false},"axis":null},
  "y2":{"datum":1},
  "color":{"field":"swatch","type":"nominal","legend":null}
 }},
{"data":{"name":"swatchlabels"},"mark":{"type":"text","fontSize":20,"color":"#444","font":"Liberation Sans","align":"center","baseline":"middle"},
 "encoding":{
  "x":{"field":"pos","type":"quantitative","scale":{"domain":[0,17],"range":[22,1030],"nice":false,"zero":false},"axis":{"orient":"bottom","domain":false,"ticks":false,"labels":false,"values":[],"title":"Unit electrode spacing 15.0 m.","titleX":964,"titleY":-12,"titleAlign":"left","titleBaseline":"middle"}},
  "y":{"datum":0.5,"type":"quantitative","scale":{"domain":[0,1],"range":[775,795],"nice":false,"zero":false},"axis":null},
  "text":{"field":"label"}
 }}
],
"resolve":{"scale":{"x":"independent","y":"independent"}}
}
